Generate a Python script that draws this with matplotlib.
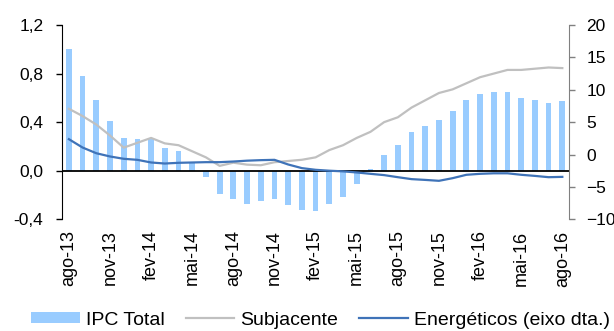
import numpy as np
import matplotlib
matplotlib.use('Agg')
import matplotlib.pyplot as plt
from matplotlib.ticker import FuncFormatter

plt.rcParams['font.family'] = ['Liberation Sans', 'DejaVu Sans']

# monthly data, ago-13 .. ago-16
meses = ['ago-13', 'set-13', 'out-13', 'nov-13', 'dez-13', 'jan-14', 'fev-14',
         'mar-14', 'abr-14', 'mai-14', 'jun-14', 'jul-14', 'ago-14', 'set-14',
         'out-14', 'nov-14', 'dez-14', 'jan-15', 'fev-15', 'mar-15', 'abr-15',
         'mai-15', 'jun-15', 'jul-15', 'ago-15', 'set-15', 'out-15', 'nov-15',
         'dez-15', 'jan-16', 'fev-16', 'mar-16', 'abr-16', 'mai-16', 'jun-16',
         'jul-16', 'ago-16']

ipc_total = [1.00, 0.78, 0.58, 0.41, 0.27, 0.26, 0.26, 0.19, 0.16, 0.06,
             -0.05, -0.19, -0.23, -0.27, -0.25, -0.23, -0.28, -0.32, -0.33,
             -0.27, -0.22, -0.11, 0.01, 0.13, 0.21, 0.32, 0.37, 0.42, 0.49,
             0.58, 0.63, 0.645, 0.65, 0.60, 0.58, 0.56, 0.57]

subjacente = [0.51, 0.45, 0.38, 0.29, 0.19, 0.23, 0.27, 0.225, 0.21, 0.16,
              0.11, 0.04, 0.066, 0.05, 0.045, 0.07, 0.08, 0.09, 0.11, 0.17,
              0.21, 0.27, 0.32, 0.40, 0.44, 0.52, 0.58, 0.64, 0.67, 0.72,
              0.77, 0.80, 0.83, 0.83, 0.84, 0.85, 0.845]

energeticos = [2.37, 1.08, 0.2, -0.3, -0.66, -0.82, -1.23, -1.39, -1.28,
               -1.23, -1.18, -1.18, -1.08, -0.95, -0.87, -0.82, -1.54, -2.1,
               -2.36, -2.5, -2.6, -2.77, -2.98, -3.18, -3.5, -3.8, -3.92,
               -4.06, -3.65, -3.13, -2.98, -2.9, -2.9, -3.13, -3.3, -3.5, -3.45]

x = np.arange(len(meses))

fig = plt.figure(figsize=(6.14, 3.31), dpi=100)
ax = fig.add_axes([0.101, 0.3375, 0.826, 0.587])
ax2 = ax.twinx()

b = ax.bar(x, ipc_total, width=0.42, color='#99ccff', label='IPC Total', zorder=2)
l1, = ax.plot(x, subjacente, color='#c0c0c0', lw=1.6, label='Subjacente', zorder=3)
ax.axhline(0, color='black', lw=1.3, zorder=4)
l2, = ax2.plot(x, energeticos, color='#3f73b8', lw=1.6, label='Energéticos (eixo dta.)')

ax.set_xlim(-0.5, len(meses) - 0.5)
ax.set_ylim(-0.4, 1.2)
ax.set_yticks([-0.4, 0, 0.4, 0.8, 1.2])
ax.yaxis.set_major_formatter(FuncFormatter(lambda v, p: ('%.1f' % v).replace('.', ',')))
ax2.set_ylim(-10, 20)
ax2.set_yticks(range(-10, 21, 5))

ax.set_xticks(x[::3])
ax.set_xticklabels(meses[::3], rotation=90, fontsize=13)
ax.tick_params(axis='x', length=0, pad=8)
ax.tick_params(axis='y', labelsize=12.5, length=4.5, width=1, pad=9, color='black')
ax2.tick_params(axis='y', labelsize=12.5, length=4.5, width=1, pad=8, color='#808080')

for s in ['top', 'bottom', 'right']:
    ax.spines[s].set_visible(False)
for s in ['top', 'bottom', 'left']:
    ax2.spines[s].set_visible(False)
ax.spines['left'].set_color('black')
ax2.spines['right'].set_color('#808080')
ax.patch.set_visible(False)

fig.legend([b, l1, l2], ['IPC Total', 'Subjacente', 'Energéticos (eixo dta.)'],
           loc='center', bbox_to_anchor=(0.522, 0.033), ncol=3, frameon=False,
           fontsize=14, handlelength=2.5, handletextpad=0.3, columnspacing=1.1,
           handleheight=0.5)

fig.savefig('out.png', dpi=100)
